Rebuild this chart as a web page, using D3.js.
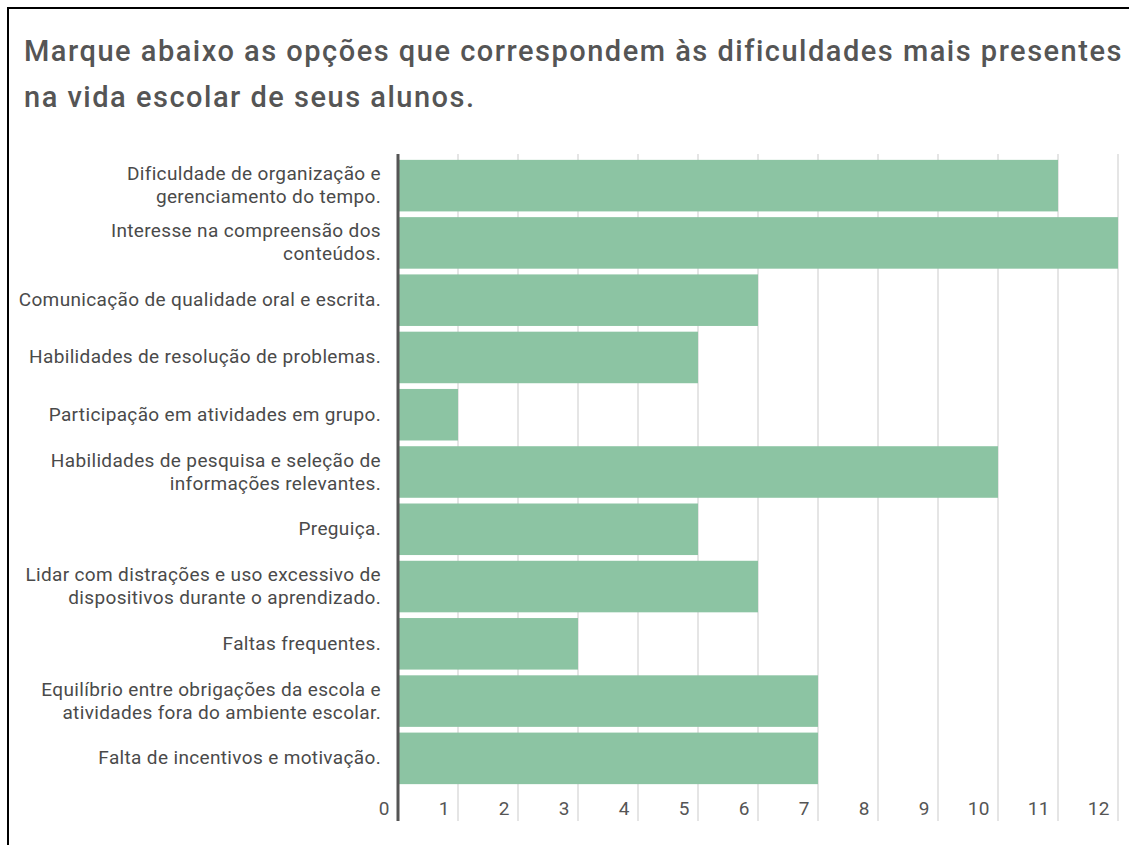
<!DOCTYPE html>
<html>
<head>
<meta charset="utf-8">
<script src="https://cdn.jsdelivr.net/npm/d3@7"></script>
<style>
  body { margin: 0; background: #fff; }
</style>
</head>
<body>
<div id="chart"></div>
<script>
// chart data
var categories = [
  ["Dificuldade de organização e", "gerenciamento do tempo."],
  ["Interesse na compreensão dos", "conteúdos."],
  ["Comunicação de qualidade oral e escrita."],
  ["Habilidades de resolução de problemas."],
  ["Participação em atividades em grupo."],
  ["Habilidades de pesquisa e seleção de", "informações relevantes."],
  ["Preguiça."],
  ["Lidar com distrações e uso excessivo de", "dispositivos durante o aprendizado."],
  ["Faltas frequentes."],
  ["Equilíbrio entre obrigações da escola e", "atividades fora do ambiente escolar."],
  ["Falta de incentivos e motivação."]
];
var values = [11, 12, 6, 5, 1, 10, 5, 6, 3, 7, 7];
var tickValues = [0, 1, 2, 3, 4, 5, 6, 7, 8, 9, 10, 11, 12];
var titleLines = [
  "Marque abaixo as opções que correspondem às dificuldades mais presentes",
  "na vida escolar de seus alunos."
];

var width = 1129, height = 845;
var plotLeft = 398, plotRight = 1118, plotTop = 157, plotBottom = 787;
var barColor = "#8cc4a3";
var textColor = "#555";

var svg = d3.select("#chart").append("svg")
  .attr("width", width)
  .attr("height", height)
  .style("font-family", "Roboto, sans-serif");

// frame
svg.append("path")
  .attr("d", "M8,845 V8 H1129")
  .attr("fill", "none")
  .attr("stroke", "#000")
  .attr("stroke-width", 2);

// title
svg.selectAll(".title")
  .data(titleLines)
  .enter()
  .append("text")
  .attr("x", 24)
  .attr("y", function(d, i) { return 61 + i * 46; })
  .attr("font-size", "29px")
  .attr("font-weight", 500)
  .attr("letter-spacing", "1.5px")
  .attr("fill", textColor)
  .text(function(d) { return d; });

var x = d3.scaleLinear().domain([0, 12]).range([plotLeft, plotRight]);
var y = d3.scaleBand().domain(d3.range(values.length)).range([plotTop, plotBottom]).paddingInner(0.1).paddingOuter(0.05);

// gridlines
svg.selectAll(".grid")
  .data(tickValues.slice(1))
  .enter()
  .append("line")
  .attr("x1", function(d) { return x(d); })
  .attr("x2", function(d) { return x(d); })
  .attr("y1", 154)
  .attr("y2", 821)
  .attr("stroke", "#dcdcdc")
  .attr("stroke-width", 1.5);

// bars
svg.selectAll(".bar")
  .data(values)
  .enter()
  .append("rect")
  .attr("x", x(0))
  .attr("y", function(d, i) { return y(i); })
  .attr("width", function(d) { return x(d) - x(0); })
  .attr("height", y.bandwidth())
  .attr("fill", barColor);

// axis line
svg.append("line")
  .attr("x1", x(0)).attr("x2", x(0))
  .attr("y1", 154).attr("y2", 821)
  .attr("stroke", "#555")
  .attr("stroke-width", 3);

// tick labels
svg.selectAll(".tick")
  .data(tickValues)
  .enter()
  .append("text")
  .attr("x", function(d) { return x(d) - 8; })
  .attr("y", 815)
  .attr("text-anchor", "end")
  .attr("font-size", "19px")
  .attr("letter-spacing", "0.5px")
  .attr("fill", textColor)
  .text(function(d) { return d; });

// category labels
var labels = svg.selectAll(".cat")
  .data(categories)
  .enter()
  .append("text")
  .attr("text-anchor", "end")
  .attr("font-size", "19px")
  .attr("letter-spacing", "0.35px")
  .attr("fill", "#4a4a4a");

labels.each(function(lines, i) {
  var cy = y(i) + y.bandwidth() / 2;
  var lh = 23;
  var y0 = cy - (lines.length - 1) * lh / 2 + 6;
  d3.select(this).selectAll("tspan")
    .data(lines)
    .enter()
    .append("tspan")
    .attr("x", 381)
    .attr("y", function(d, j) { return y0 + j * lh; })
    .text(function(d) { return d; });
});
</script>
</body>
</html>
